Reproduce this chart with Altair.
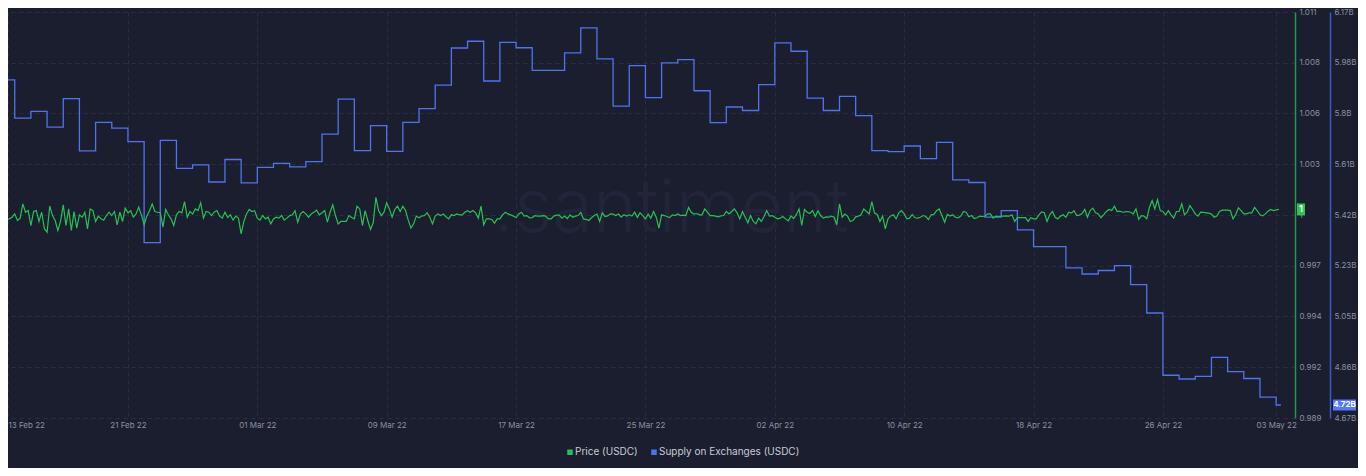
import altair as alt
import pandas as pd

# ---------------- data ----------------
price_start = "2022-02-13T00:00:00"   # one reading every 4 hours
price_values = [
    0.99997, 0.99958, 0.99985, 0.99976, 0.99979, 0.99988, 1.00006, 0.99970, 0.99983, 1.00060,
    1.00015, 1.00024, 0.99943, 1.00019, 1.00024, 0.99965, 1.00015, 0.99925, 0.99907, 1.00048,
    0.99997, 0.99970, 0.99916, 0.99965, 1.00055, 0.99943, 1.00033, 0.99916, 1.00019, 0.99929,
    1.00001, 0.99988, 1.00015, 0.99925, 1.00033, 1.00024, 0.99965, 0.99994, 0.99979, 0.99972,
    0.99997, 1.00015, 0.99997, 1.00019, 0.99947, 1.00015, 0.99965, 1.00037, 1.00012, 1.00023,
    0.99988, 1.00006, 1.00042, 1.00001, 0.99947, 0.99994, 1.00023, 1.00060, 1.00019, 1.00015,
    1.00012, 0.99934, 1.00030, 1.00001, 0.99979, 0.99943, 1.00001, 1.00019, 1.00012, 1.00073,
    0.99988, 1.00019, 1.00005, 1.00033, 1.00024, 1.00066, 0.99983, 1.00019, 1.00015, 0.99997,
    1.00015, 1.00024, 0.99994, 0.99983, 1.00015, 0.99986, 1.00001, 0.99972, 0.99994, 0.99983,
    0.99898, 0.99965, 1.00006, 1.00030, 1.00019, 1.00023, 0.99983, 0.99972,
    0.99997, 0.99979, 0.99988, 0.99952, 0.99979, 0.99988, 0.99983, 0.99997, 0.99972, 0.99983,
    0.99997, 1.00001, 1.00023, 0.99961, 1.00006, 1.00019, 1.00006, 0.99988, 1.00006, 1.00015,
    1.00026, 1.00001, 1.00012, 1.00024, 0.99961, 1.00015, 1.00055, 0.99997, 0.99952, 0.99965,
    0.99965, 0.99965, 0.99997, 0.99986, 0.99979, 1.00048, 1.00033, 0.99943, 1.00024, 0.99970,
    0.99922, 0.99958, 1.00096, 1.00024, 0.99997, 1.00015, 1.00066, 1.00033, 0.99988, 1.00030,
    1.00048, 1.00019, 1.00048, 1.00024, 0.99972, 0.99929, 0.99952, 0.99994, 0.99985, 0.99994,
    0.99997, 1.00012, 0.99988, 0.99952, 0.99994, 1.00006, 0.99997, 1.00005, 0.99990, 0.99979,
    1.00001, 0.99997, 1.00006, 1.00001, 1.00001, 1.00015, 1.00023, 1.00015, 1.00024, 1.00012,
    0.99983, 1.00048, 0.99947, 0.99979, 0.99979, 0.99976, 0.99956, 0.99979, 0.99979, 1.00001,
    1.00015, 1.00006, 1.00001, 0.99994, 0.99985,
    1.00006, 1.00015, 0.99994, 0.99997, 0.99985, 0.99986, 0.99997, 0.99994, 0.99994, 0.99997,
    0.99994, 0.99979, 0.99979, 0.99994, 0.99999, 0.99999, 0.99983, 0.99994, 0.99981, 1.00001,
    0.99988, 0.99994, 0.99997, 1.00014, 0.99979, 0.99976, 0.99970, 0.99985, 0.99997, 1.00005,
    0.99965, 1.00012, 0.99992, 0.99995, 1.00006, 1.00005, 0.99997, 1.00005, 0.99988, 1.00001,
    0.99994, 1.00001, 0.99994, 1.00015, 0.99986, 1.00012, 0.99997, 0.99979, 1.00005, 0.99983,
    1.00019, 0.99988, 0.99929, 1.00001, 0.99997, 0.99992, 0.99986, 1.00001, 0.99997, 1.00006,
    0.99997, 0.99999, 0.99997, 1.00041, 1.00015, 1.00005, 1.00008, 1.00001, 1.00001, 1.00033,
    1.00015, 0.99997, 0.99997, 0.99994, 0.99990, 0.99995, 0.99997, 1.00019, 1.00006, 1.00019,
    1.00033, 1.00012, 0.99979, 1.00019, 0.99988, 0.99958, 0.99997, 0.99965, 0.99952, 0.99983,
    0.99965, 0.99992, 1.00024, 0.99994, 0.99997, 0.99988,
    0.99979, 0.99983, 0.99992, 0.99979, 0.99968, 0.99995, 0.99981, 1.00003, 1.00033, 0.99943,
    1.00030, 1.00015, 1.00008, 1.00024, 0.99992, 1.00023, 0.99997, 0.99983, 0.99990, 0.99988,
    0.99994, 0.99988, 0.99947, 1.00060, 0.99988, 1.00005, 0.99994, 0.99965, 0.99970, 0.99990,
    0.99994, 1.00001, 1.00033, 1.00019, 1.00006, 1.00073, 1.00010, 1.00003, 0.99965, 0.99994,
    0.99925, 0.99979, 0.99995, 1.00001, 0.99979, 1.00012, 1.00024, 1.00006, 0.99979, 0.99983,
    1.00003, 0.99985, 0.99983, 0.99988, 0.99997, 0.99992, 0.99976, 1.00001, 1.00003, 1.00023,
    1.00033, 0.99997, 0.99961, 1.00003, 0.99994, 1.00001, 0.99988, 0.99985, 0.99994, 1.00019,
    1.00015, 0.99990, 0.99997, 0.99981, 0.99985, 0.99994, 0.99992, 0.99994, 1.00006, 1.00006,
    0.99983, 0.99994, 0.99992, 0.99994, 0.99994, 0.99995, 0.99994, 1.00001, 0.99965, 0.99986,
    0.99986, 0.99986, 0.99986, 0.99965, 0.99985, 0.99979,
    0.99979, 1.00001, 1.00017, 1.00012, 0.99965, 1.00001, 1.00019, 0.99988, 0.99979, 0.99994,
    1.00001, 0.99988, 1.00015, 1.00010, 1.00023, 0.99997, 0.99999, 1.00008, 1.00030, 0.99988,
    1.00024, 1.00037, 1.00012, 1.00006, 0.99985, 1.00001, 1.00019, 1.00030, 1.00024, 1.00048,
    1.00019, 1.00021, 1.00015, 1.00017, 1.00019, 1.00015, 1.00006, 1.00033, 0.99976, 0.99997,
    0.99994, 0.99979, 1.00042, 1.00078, 1.00033, 1.00084, 1.00024, 1.00019, 1.00001, 1.00024,
    1.00001, 0.99983, 1.00019, 1.00019, 1.00060, 1.00001, 1.00015, 1.00051, 1.00030, 1.00006,
    0.99994, 1.00015, 1.00014, 1.00012, 1.00010, 1.00005, 0.99988, 0.99994, 1.00019, 1.00026,
    1.00026, 1.00026, 1.00024, 0.99979, 1.00003, 1.00039, 1.00024, 1.00006, 1.00006, 1.00012,
    1.00012, 1.00041, 1.00023, 1.00001, 0.99995, 1.00006, 1.00021, 1.00030, 1.00024, 1.00028,
    1.00030,
]

supply_start = "2022-02-13"           # one value per day, in billions
supply_values = [
    5.919, 5.778, 5.803, 5.745, 5.850, 5.657, 5.762, 5.741, 5.691, 5.318,
    5.696, 5.592, 5.605, 5.542, 5.625, 5.539, 5.596, 5.611, 5.598, 5.617,
    5.719, 5.848, 5.658, 5.750, 5.655, 5.762, 5.813, 5.900, 6.037, 6.062,
    5.915, 6.058, 6.038, 5.954, 5.954, 6.019, 6.111, 5.997, 5.822, 5.972,
    5.854, 5.982, 5.994, 5.879, 5.761, 5.819, 5.806, 5.902, 6.056, 6.025,
    5.852, 5.806, 5.858, 5.787, 5.658, 5.654, 5.675, 5.628, 5.688, 5.550,
    5.540, 5.412, 5.436, 5.365, 5.303, 5.303, 5.225, 5.202, 5.215, 5.233,
    5.163, 5.058, 4.828, 4.814, 4.824, 4.894, 4.841, 4.816, 4.747, 4.718,
]
supply_last_time = "2022-05-03T07:00:00"

series_names = ["Price (USDC)", "Supply on Exchanges (USDC)"]
series_colors = ["#27c255", "#5073ee"]

price_ticks = [0.989, 0.99175, 0.9945, 0.99725, 1.0, 1.00275, 1.0055, 1.00825, 1.011]
price_tick_labels = ["0.989", "0.992", "0.994", "0.997", "1", "1.003", "1.006", "1.008", "1.011"]
supply_ticks = [4.67, 4.8575, 5.045, 5.2325, 5.42, 5.6075, 5.795, 5.9825, 6.17]
supply_tick_labels = ["4.67B", "4.86B", "5.05B", "5.23B", "5.42B", "5.61B", "5.8B", "5.98B", "6.17B"]
x_tick_dates = [(2, 13, 14), (2, 21, 0), (3, 1, 0), (3, 9, 0), (3, 17, 0), (3, 25, 0),
                (4, 2, 0), (4, 10, 0), (4, 18, 0), (4, 26, 0), (5, 3, 0)]
x_domain = [(2, 13, 14), (5, 4, 4)]
watermark_text = ".santiment"

# ---------------- styling ----------------
BG = "#1b1e2e"
GRID = "#2a2e41"
LABEL = "#8b90a3"
FONT = "Inter"

price_times = pd.date_range(price_start, periods=len(price_values), freq="4h")
price_df = pd.DataFrame({
    "time": price_times.strftime("%Y-%m-%dT%H:%M:%S"),
    "price": price_values,
    "series": series_names[0],
})
supply_times = list(pd.date_range(supply_start, periods=len(supply_values), freq="D").strftime("%Y-%m-%dT%H:%M:%S"))
supply_df = pd.DataFrame({
    "time": supply_times + [supply_last_time],
    "supply": supply_values + [supply_values[-1]],
    "series": series_names[1],
})
price_last = pd.DataFrame({"time": [price_df["time"].iloc[-1]], "price": [price_values[-1]],
                           "label": [f"{price_values[-1]:.0f}"]})
supply_last = pd.DataFrame({"time": [supply_last_time], "supply": [supply_values[-1]],
                            "label": [f"{supply_values[-1]:.2f}B"]})


def dt(m, d, h):
    return alt.DateTime(year=2022, month=m, date=d, hours=h)


def lookup_expr(labels, first, step):
    arr = "[" + ",".join(f"'{s}'" for s in labels) + "]"
    return f"{arr}[round((datum.value - {first}) / {step})]"


x_scale = alt.Scale(domain=[dt(*x_domain[0]), dt(*x_domain[1])])
x_axis = alt.Axis(values=[dt(*t) for t in x_tick_dates], format="%d %b %y", title=None,
                  grid=True, gridColor=GRID, gridDash=[4, 4], gridWidth=1,
                  domain=False, ticks=False, labelColor=LABEL, labelFontSize=8,
                  labelFont=FONT, labelPadding=3, labelFlush=True)
x_enc = alt.X("time:T", scale=x_scale, axis=x_axis)

price_scale = alt.Scale(domain=[price_ticks[0], price_ticks[-1]], nice=False, zero=False)
price_axis = alt.Axis(orient="right", values=price_ticks,
                      labelExpr=lookup_expr(price_tick_labels, 0.989, 0.00275),
                      title=None, domain=True, domainColor="#1f9a47", domainWidth=1.5,
                      ticks=False, labelColor=LABEL, labelFontSize=8, labelFont=FONT,
                      labelPadding=4, labelAlign="left", labelBaseline="middle",
                      grid=True, gridColor=GRID, gridDash=[4, 4], gridWidth=1)
supply_scale = alt.Scale(domain=[supply_ticks[0], supply_ticks[-1]], nice=False, zero=False)
supply_axis = alt.Axis(orient="right", offset=35, values=supply_ticks,
                       labelExpr=lookup_expr(supply_tick_labels, 4.67, 0.1875),
                       title=None, domain=True, domainColor="#3e58c8", domainWidth=1.5,
                       ticks=False, labelColor=LABEL, labelFontSize=8, labelFont=FONT,
                       labelPadding=4, labelAlign="left", labelBaseline="middle", grid=False)

legend = alt.Legend(orient="none", legendX=557, legendY=435, direction="horizontal", title=None,
                    symbolType="square", symbolSize=9, symbolStrokeWidth=2.5,
                    labelColor="#c9ccd7", labelFontSize=10, labelFont=FONT, labelOffset=0,
                    columnPadding=9, padding=0)
color_enc = alt.Color("series:N", scale=alt.Scale(domain=series_names, range=series_colors),
                      legend=legend)

watermark = alt.Chart(pd.DataFrame({"t": [watermark_text]})).mark_text(
    fontSize=74, font=FONT, fontWeight=300, color="#22253a", align="center", baseline="alphabetic"
).encode(text="t:N", x=alt.value(663), y=alt.value(220))

supply_line = alt.Chart(supply_df).mark_line(strokeWidth=1.3, interpolate="step-after", clip=True).encode(
    x=x_enc, y=alt.Y("supply:Q", scale=supply_scale, axis=supply_axis), color=color_enc)
supply_badge = alt.Chart(supply_last).mark_point(
    shape="M-1,-0.478L1,-0.478L1,0.478L-1,0.478Z", size=529, filled=True, opacity=1, color="#5878f5"
).encode(x=alt.value(1336.5), y=alt.Y("supply:Q", scale=supply_scale, axis=supply_axis))
supply_badge_text = alt.Chart(supply_last).mark_text(
    color="white", fontSize=8, font=FONT, fontWeight="bold", align="center", baseline="middle"
).encode(x=alt.value(1336.5), y=alt.Y("supply:Q", scale=supply_scale, axis=supply_axis), text="label:N")
supply_layer = alt.layer(supply_line, supply_badge, supply_badge_text)

price_line = alt.Chart(price_df).mark_line(strokeWidth=1.2, clip=True).encode(
    x=x_enc, y=alt.Y("price:Q", scale=price_scale, axis=price_axis), color=color_enc)
price_badge = alt.Chart(price_last).mark_point(
    shape="M-0.667,-1L0.667,-1L0.667,1L-0.667,1Z", size=144, filled=True, opacity=1, color="#2cc653"
).encode(x=alt.value(1293), y=alt.Y("price:Q", scale=price_scale, axis=price_axis))
price_badge_text = alt.Chart(price_last).mark_text(
    color="white", fontSize=9, font=FONT, fontWeight="bold", align="center", baseline="middle"
).encode(x=alt.value(1293), y=alt.Y("price:Q", scale=price_scale, axis=price_axis), text="label:N")
price_layer = alt.layer(price_line, price_badge, price_badge_text)

chart = alt.layer(watermark, supply_layer, price_layer).resolve_scale(
    y="independent"
).properties(
    width=1287, height=406,
    autosize=alt.AutoSizeParams(type="none"),
    padding={"left": 0, "top": 4, "right": 63, "bottom": 50},
    background=BG,
).configure_view(stroke=None)

chart.save("out.html", embed_options={"renderer": "svg", "actions": False})
